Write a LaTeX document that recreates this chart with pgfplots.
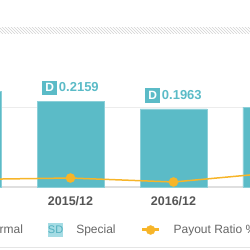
\documentclass[border=0pt]{standalone}
\usepackage{pgfplots}
\pgfplotsset{compat=1.18}
\usepackage{fontspec}
\setmainfont{Liberation Sans}
\usetikzlibrary{patterns}
\definecolor{barc}{RGB}{91,187,199}
\definecolor{linec}{RGB}{247,181,41}
\definecolor{lightc}{RGB}{165,220,228}
\definecolor{sdtext}{RGB}{80,175,190}
\definecolor{tickc}{RGB}{85,85,85}
\definecolor{legc}{RGB}{102,102,102}
\begin{document}
\begin{tikzpicture}[x=1pt,y=1pt]
\useasboundingbox (0,0) rectangle (250,250);
\clip (0,0) rectangle (250,250);
\begin{axis}[
  at={(0pt,63pt)}, anchor=south west,
  scale only axis, width=250pt, height=159.2pt,
  xmin=0.3155, xmax=2.7427, ymin=0, ymax=0.4,
  axis line style={draw=none}, tick style={draw=none},
  major tick length=0pt,
  ytick={0.2}, yticklabels={},
  ymajorgrids, grid style={color=gray!15, line width=0.8pt},
  extra y ticks={0}, extra y tick labels={},
  extra y tick style={grid style={line width=2pt, color=gray!25}},
  xtick={0,1,2,3},
  xticklabels={2014/12,2015/12,2016/12,2017/12},
  x tick label style={font=\bfseries\fontsize{12.5}{12.5}\selectfont, text=tickc, anchor=north, inner sep=0pt, yshift=-9pt},
  legend columns=3,
  legend style={at={(axis description cs:-0.1708,-0.2701)}, anchor=west,
    draw=none, fill=none, inner sep=0pt, outer sep=0pt,
    font=\fontsize{12}{12}\selectfont, text=legc,
    nodes={inner sep=0pt},
    /tikz/every odd column/.append style={column sep=13pt},
    /tikz/every even column/.append style={column sep=25pt}},
]
\addplot[ybar, bar width=67pt, fill=barc, draw=barc!70!white, line width=0.6pt,
  legend image code/.code={\node[fill=barc, text=white, inner sep=0pt, minimum width=14pt, minimum height=14pt, font=\bfseries\fontsize{11}{11}\selectfont] at (7pt,0pt) {D};}]
  coordinates {(0,0.2412) (1,0.2159) (2,0.1963) (3,0.2010)};
\addlegendentry{Normal}
\addlegendimage{legend image code/.code={\node[fill=lightc, text=sdtext, inner sep=0pt, minimum width=14.5pt, minimum height=14.5pt, font=\fontsize{11}{11}\selectfont] at (7.25pt,0pt) {SD};}}
\addlegendentry{Special}
\addlegendimage{legend image code/.code={\draw[linec, line width=3pt] (0pt,0pt) -- (17pt,0pt); \fill[linec] (8.5pt,0pt) circle (4.5pt);}}
\addlegendentry{Payout Ratio \%}
\addplot[draw=none, mark=none, forget plot, point meta=explicit symbolic,
  nodes near coords={{\fboxsep=3pt\colorbox{barc}{\textcolor{white}{\fontsize{12}{12}\selectfont D}}}\hspace{2pt}\textcolor{barc}{\pgfplotspointmeta}},
  every node near coord/.append style={font=\bfseries\fontsize{13}{13}\selectfont, inner sep=0pt, anchor=south, yshift=6pt}]
  coordinates {(1,0.2159) [0.2159] (2,0.1963) [0.1963]};
\end{axis}
\begin{axis}[
  at={(0pt,63pt)}, anchor=south west,
  scale only axis, width=250pt, height=159.2pt,
  xmin=0.3155, xmax=2.7427, ymin=0, ymax=1000, hide axis]
\addplot[linec, line width=1.5pt, mark=*, mark size=4pt, mark options={fill=linec, draw=linec}]
  coordinates {(0,47) (1,56.5) (2,31.4) (3,91)};
\end{axis}
\fill[pattern=north west lines, pattern color=gray!35] (0,217) rectangle (250,223);
\draw[gray!20, line width=1pt] (0,3) -- (250,3);
\end{tikzpicture}
\end{document}
